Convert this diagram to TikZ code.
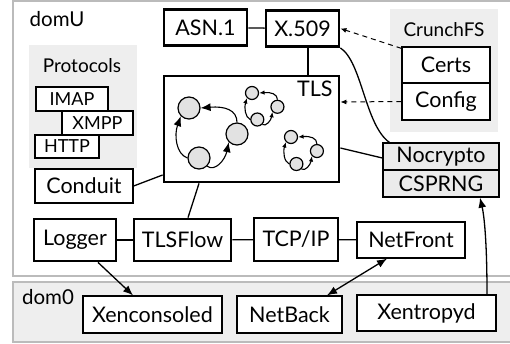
\documentclass[tikz,border=0pt]{standalone}
\usepackage{fontspec}
\setmainfont{Lato}
\usetikzlibrary{arrows.meta,calc}
\definecolor{panel}{HTML}{EEEEEE}
\definecolor{frame}{HTML}{BBBBBB}
\definecolor{ballfill}{HTML}{E2E2E2}
\definecolor{cryfill}{HTML}{EBEBEB}
\newcommand\mainsize{\fontsize{21.5}{24}\selectfont}
\newcommand\smallsize{\fontsize{18}{20}\selectfont}
\newcommand\labelsize{\fontsize{19}{21}\selectfont}
\tikzset{
  thin box/.style={draw, line width=1.3pt, fill=white, inner sep=0pt, font=\mainsize},
  thick box/.style={draw, line width=2.8pt, fill=white, inner sep=0pt, font=\mainsize},
  proto box/.style={draw, line width=1.3pt, fill=white, inner sep=0pt, font=\smallsize},
  conn/.style={line width=1.3pt},
  bigarrow/.style={line width=1.3pt, -{Latex[length=10pt,width=8pt]}},
  bothbig/.style={line width=1.3pt, {Latex[length=10pt,width=8pt]}-{Latex[length=10pt,width=8pt]}},
  dasharrow/.style={line width=1pt, dash pattern=on 5pt off 4pt, -{Latex[length=6pt,width=5pt]}},
  ball/.style={circle, draw, line width=1.2pt, fill=ballfill, inner sep=0pt},
  framebox/.style={draw=frame, line width=1.2pt},
}
% prefix, x, y, scale, diameter, arrow length
\newcommand\mycycle[6]{%
  \begin{scope}[shift={(#2,#3)}, scale=#4]
    \node[ball, minimum size=#5] (#1a) at (0,0) {};
    \node[ball, minimum size=#5] (#1b) at (48,26) {};
    \node[ball, minimum size=#5] (#1c) at (10,50) {};
    \draw[line width=1.1pt, -{Latex[length=#6,width=0.8*#6]}] (#1c.west) .. controls (-13,46) and (-15,27) .. (#1a.south west);
    \draw[line width=1.1pt, -{Latex[length=#6,width=0.8*#6]}] (#1b.north) .. controls (48,2) and (36,-2) .. (#1a.east);
    \draw[line width=1.1pt, -{Latex[length=#6,width=0.8*#6]}] (#1c.south east) .. controls (26,64) and (36,52) .. (#1b.south west);
  \end{scope}}
\begin{document}
\begin{tikzpicture}[x=1pt,y=-1pt]
  \useasboundingbox (0,0) rectangle (510,343);
  \begin{scope}
  \clip (0,0) rectangle (510,343);
  % frames
  \draw[framebox, fill=white] (13,1) rectangle (520,276);
  \draw[framebox, fill=panel] (13,282) rectangle (520,342);
  \end{scope}
  \node[font=\fontsize{20.5}{23}\selectfont, anchor=base] (domU) at (57,26) {domU};
  \node[font=\fontsize{20.5}{23}\selectfont, anchor=base] (dom0) at (48,304) {dom0};
  % panels
  \fill[panel] (29,45) rectangle (137,168);
  \fill[panel] (390,9) rectangle (498,132);
  \node[font=\labelsize] (protolabel) at (82,66) {Protocols};
  \node[font=\labelsize] (crunchlabel) at (444,30) {CrunchFS};
  % boxes
  \node[thick box, minimum width=83pt, minimum height=36pt] (asn) at (205.5,27.5) {ASN.1};
  \node[thick box, minimum width=73pt, minimum height=36pt] (x509) at (302.5,28.5) {X.509};
  \node[thick box, minimum width=175pt, minimum height=106pt] (tls) at (251.5,129) {};
  \node[font=\mainsize, anchor=north east] (tlslabel) at (336,77) {TLS};
  \node[thin box, minimum width=88pt, minimum height=36pt] (certs) at (446,65) {Certs};
  \node[thin box, minimum width=88pt, minimum height=37pt] (config) at (446,101.5) {Config};
  \node[thin box, fill=cryfill, minimum width=116pt, minimum height=27pt] (noc) at (441,156.5) {Nocrypto};
  \node[thin box, fill=cryfill, minimum width=116pt, minimum height=27pt] (csprng) at (441,183.5) {CSPRNG};
  \node[proto box, minimum width=72pt, minimum height=24pt] (imap) at (72,99) {IMAP};
  \node[proto box, minimum width=71pt, minimum height=24pt] (xmpp) at (97.5,123) {XMPP};
  \node[proto box, minimum width=64pt, minimum height=23pt] (http) at (67,146.5) {HTTP};
  \node[thin box, minimum width=98pt, minimum height=34pt] (conduit) at (84,186) {Conduit};
  \node[thick box, minimum width=82pt, minimum height=42pt] (logger) at (75,240) {Logger};
  \node[thick box, minimum width=97pt, minimum height=42pt] (tlsflow) at (182.5,240) {TLSFlow};
  \node[thin box, minimum width=84pt, minimum height=43pt] (tcpip) at (296,239.5) {TCP/IP};
  \node[thin box, minimum width=108pt, minimum height=36pt] (netfront) at (411,240) {NetFront};
  \node[thin box, minimum width=139pt, minimum height=37pt] (xencons) at (152.5,314.5) {Xenconsoled};
  \node[thin box, minimum width=105pt, minimum height=37pt] (netback) at (289.5,314.5) {NetBack};
  \node[thin box, minimum width=139pt, minimum height=36pt] (xentropy) at (426.5,313) {Xentropyd};
  % TLS internals
  \mycycle{p}{189}{108}{1}{22pt}{10pt}
  \mycycle{q}{252}{93}{0.53}{13pt}{5.5pt}
  \mycycle{r}{291}{137}{0.54}{13pt}{5.5pt}
  % connectors
  \draw[conn] (asn) -- (x509);
  \draw[conn] ([xshift=5.5pt]x509.south) -- ([xshift=5.5pt]x509.south |- tls.north);
  \draw[conn] ([yshift=-19pt]tls.east) -- ([yshift=-1.5pt]noc.west);
  \draw[conn] (conduit.east) -- ([yshift=-46pt]tls.west);
  \draw[conn] ([xshift=5.5pt]tlsflow.north) -- ([xshift=-52.5pt]tls.south);
  \draw[conn] (logger) -- (tlsflow);
  \draw[conn] (tlsflow) -- (tcpip);
  \draw[conn] (tcpip) -- (netfront);
  \draw[conn] (x509.south east) .. controls (362,62) and (365,125) .. ([xshift=7pt]noc.north west);
  \draw[dasharrow] ([yshift=-2pt]certs.north west) -- (x509.east);
  \draw[dasharrow] (config.west) -- ([yshift=27pt]tls.east);
  \draw[bigarrow] ([xshift=23pt]logger.south) -- ([xshift=-19.5pt]xencons.north);
  \draw[bothbig] ([xshift=37.5pt]netback.north) -- ([xshift=-24pt]netfront.south);
  \draw[bigarrow] ([xshift=60.5pt]xentropy.north) .. controls (487,240) and (484,215) .. ([xshift=39pt]csprng.south);
\end{tikzpicture}
\end{document}
